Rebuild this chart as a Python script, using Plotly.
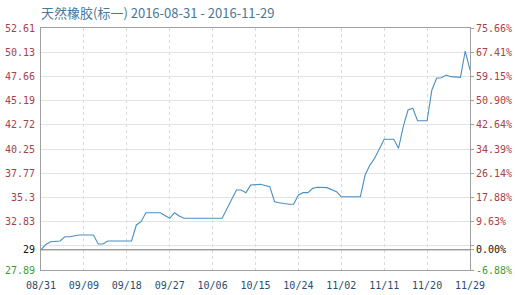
import plotly.graph_objects as go

dates = ["2016-08-31","2016-09-01","2016-09-02","2016-09-04","2016-09-05","2016-09-06","2016-09-08",
         "2016-09-11","2016-09-12","2016-09-13","2016-09-14","2016-09-19","2016-09-20","2016-09-21",
         "2016-09-22","2016-09-25","2016-09-27","2016-09-28","2016-09-29","2016-09-30","2016-10-08",
         "2016-10-11","2016-10-12","2016-10-13","2016-10-14","2016-10-16","2016-10-18","2016-10-19",
         "2016-10-20","2016-10-22","2016-10-23","2016-10-24","2016-10-25","2016-10-26","2016-10-27",
         "2016-10-28","2016-10-30","2016-11-01","2016-11-02","2016-11-06","2016-11-07","2016-11-08",
         "2016-11-09","2016-11-11","2016-11-13","2016-11-14","2016-11-15","2016-11-16","2016-11-17",
         "2016-11-18","2016-11-20","2016-11-21","2016-11-22","2016-11-23","2016-11-24","2016-11-25",
         "2016-11-27","2016-11-28","2016-11-29"]
prices = [29.95,30.50,30.78,30.85,31.29,31.29,31.46,
          31.46,30.55,30.55,30.85,30.85,32.49,32.82,
          33.74,33.74,33.17,33.74,33.41,33.17,33.17,
          36.06,36.06,35.79,36.57,36.64,36.40,34.87,
          34.76,34.60,34.60,35.55,35.79,35.79,36.23,
          36.34,36.30,35.89,35.38,35.38,37.59,38.61,
          39.30,41.24,41.24,40.32,42.53,44.23,44.41,
          43.14,43.14,46.28,47.47,47.53,47.81,47.64,
          47.57,50.26,48.32]

base_price = 29.95
y_ticks = [27.89,30.362,32.834,35.306,37.778,40.25,42.722,45.194,47.666,50.138,52.61]
left_labels = ["27.89","","32.83","35.3","37.77","40.25","42.72","45.19","47.66","50.13","52.61"]
right_labels = ["-6.88%","","9.63%","17.88%","26.14%","34.39%","42.64%","50.90%","59.15%","67.41%","75.66%"]
x_ticks = ["2016-08-31","2016-09-09","2016-09-18","2016-09-27","2016-10-06","2016-10-15",
           "2016-10-24","2016-11-02","2016-11-11","2016-11-20","2016-11-29"]
x_labels = ["08/31","09/09","09/18","09/27","10/06","10/15","10/24","11/02","11/11","11/20","11/29"]

RED = "#a8404c"
GREEN = "#3f9a3f"
BLACK = "#111111"

def colored(lbl, kind):
    if lbl == "":
        return ""
    if kind == "low":
        return f'<span style="color:{GREEN}">{lbl}</span>'
    return f'<span style="color:{RED}">{lbl}</span>'

lt = [colored(l, "low" if i == 0 else "hi") for i, l in enumerate(left_labels)]
rt = [colored(l, "low" if i == 0 else "hi") for i, l in enumerate(right_labels)]
lvals = y_ticks + [base_price]
lt = lt + [f'<span style="color:{BLACK}">29</span>']
rt = rt + [f'<span style="color:{BLACK}">0.00%</span>']

fig = go.Figure()
fig.add_trace(go.Scatter(x=dates, y=prices, mode="lines",
                         line=dict(color="#4a90c0", width=1.1), hoverinfo="skip", showlegend=False))
fig.add_trace(go.Scatter(x=dates, y=prices, mode="lines", yaxis="y2",
                         line=dict(color="rgba(0,0,0,0)", width=0), hoverinfo="skip", showlegend=False))

fig.add_shape(type="line", xref="paper", x0=0, x1=1, yref="y", y0=base_price, y1=base_price,
              line=dict(color="#7a7a7a", width=1), layer="above")

rng = [27.89, 52.61]
fig.update_layout(
    width=515, height=295,
    margin=dict(l=41, r=45, t=28, b=25, autoexpand=False),
    paper_bgcolor="white", plot_bgcolor="white",
    font=dict(family="DejaVu Sans Mono", size=10),
    title=dict(text="天然橡胶(标一) 2016-08-31 - 2016-11-29", x=0, xref="paper", xanchor="left",
               y=0.955, yanchor="middle",
               font=dict(family="Noto Sans CJK SC", size=13, color="#4a7796")),
    xaxis=dict(type="date", range=["2016-08-31", "2016-11-29"], tickvals=x_ticks, ticktext=x_labels,
               showgrid=True, gridcolor="#dadada", griddash="dot", gridwidth=1, automargin=False,
               showline=True, linecolor="#a0a0a0", mirror=True, zeroline=False,
               tickfont=dict(color="#2b4c6f", size=10), ticks="", ticklabelstandoff=6),
    yaxis=dict(range=rng, tickvals=lvals, ticktext=lt, showgrid=True, gridcolor="#e3e3e3",
               showline=True, linecolor="#a0a0a0", mirror=True, zeroline=False, ticks="",
               automargin=False, tickfont=dict(size=10), ticklabelstandoff=3),
    yaxis2=dict(range=rng, overlaying="y", side="right", tickvals=lvals, ticktext=rt,
                showgrid=False, showline=True, linecolor="#a0a0a0", zeroline=False, automargin=False,
                ticks="outside", ticklen=3, tickcolor="#a0a0a0", tickfont=dict(size=10)),
)
fig.write_html("out.html")
